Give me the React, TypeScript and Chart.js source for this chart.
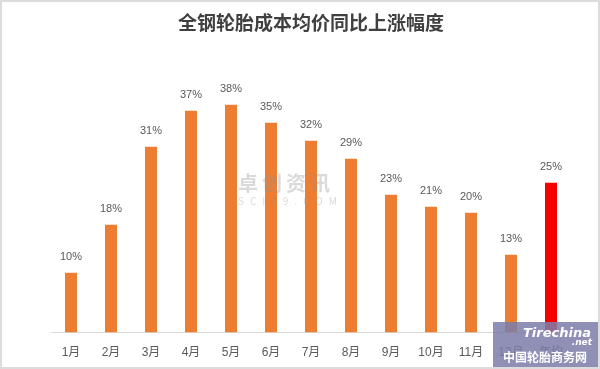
import React, { useEffect, useRef } from "react";
import { Chart, registerables } from "chart.js";

Chart.register(...registerables);

const categories = ["1月", "2月", "3月", "4月", "5月", "6月", "7月", "8月", "9月", "10月", "11月", "12月", "年均"];
const values = [10, 18, 31, 37, 38, 35, 32, 29, 23, 21, 20, 13, 25];
const barColors = ["#ED7D31", "#ED7D31", "#ED7D31", "#ED7D31", "#ED7D31", "#ED7D31", "#ED7D31", "#ED7D31", "#ED7D31", "#ED7D31", "#ED7D31", "#ED7D31", "#F50000"];
const titleText = "全钢轮胎成本均价同比上涨幅度";

const valueLabels = {
  id: "valueLabels",
  afterDatasetsDraw(chart: any) {
    const { ctx } = chart;
    const meta = chart.getDatasetMeta(0);
    ctx.save();
    ctx.font = "11px 'Liberation Sans', Arial, sans-serif";
    ctx.fillStyle = "#595959";
    ctx.textAlign = "center";
    ctx.textBaseline = "bottom";
    meta.data.forEach((bar: any, i: number) => {
      ctx.fillText(values[i] + "%", bar.x, bar.y - 10);
    });
    ctx.restore();
  },
};

export default function App() {
  const ref = useRef<HTMLCanvasElement>(null);
  useEffect(() => {
    document.body.style.margin = "0";
    const chart = new Chart(ref.current!, {
      type: "bar",
      data: {
        labels: categories,
        datasets: [
          {
            data: values,
            backgroundColor: barColors,
            borderWidth: 0,
            barPercentage: 0.3,
            categoryPercentage: 1,
          },
        ],
      },
      options: {
        animation: false,
        responsive: false,
        layout: { padding: { left: 49, right: 27, top: 0, bottom: 8 } },
        plugins: {
          legend: { display: false },
          tooltip: { enabled: false },
          title: {
            display: true,
            text: titleText,
            color: "#404040",
            font: { size: 19, weight: "bold", family: "'Noto Sans CJK SC', sans-serif" },
            padding: { top: 9, bottom: 29 },
          },
        },
        scales: {
          x: {
            grid: { display: false, drawTicks: false },
            border: { display: true, color: "#d9d9d9", width: 1 },
            ticks: {
              color: "#595959",
              font: { size: 12, family: "'Liberation Sans', 'Noto Sans CJK SC', sans-serif" },
              padding: 13,
              maxRotation: 0,
              autoSkip: false,
            },
          },
          y: {
            display: false,
            min: 0,
            max: 45,
          },
        },
      },
      plugins: [valueLabels],
    });
    return () => chart.destroy();
  }, []);

  return (
    <div
      style={{
        position: "relative",
        width: 600,
        height: 369,
        border: "2px solid #dcdcdc",
        boxSizing: "border-box",
        background: "#fff",
        overflow: "hidden",
      }}
    >
      <canvas ref={ref} width={596} height={379} style={{ display: "block" }} />
      <div
        style={{
          position: "absolute",
          left: 236,
          top: 166,
          color: "rgba(150,150,150,0.35)",
          fontFamily: "'Noto Sans CJK SC', sans-serif",
          fontSize: 20,
          fontWeight: "bold",
          letterSpacing: 4,
          pointerEvents: "none",
        }}
      >
        卓创资讯
        <div style={{ fontSize: 10, letterSpacing: 6, fontWeight: "normal", marginTop: -4 }}>SCI99.COM</div>
      </div>
      <div
        style={{
          position: "absolute",
          left: 491,
          top: 320,
          width: 105,
          height: 45,
          background: "rgba(125,125,170,0.85)",
          color: "#fff",
          fontFamily: "'Noto Sans CJK SC', sans-serif",
          pointerEvents: "none",
        }}
      >
        <div style={{ position: "absolute", left: 30, top: 3, fontSize: 13, fontStyle: "italic", fontWeight: "bold", fontFamily: "'DejaVu Sans', sans-serif" }}>
          Tirechina
        </div>
        <div style={{ position: "absolute", right: 6, top: 15, fontSize: 9, fontStyle: "italic", fontWeight: "bold", fontFamily: "'DejaVu Sans', sans-serif" }}>
          .net
        </div>
        <div style={{ position: "absolute", left: 10, top: 26, fontSize: 12, fontWeight: "bold" }}>中国轮胎商务网</div>
      </div>
    </div>
  );
}
